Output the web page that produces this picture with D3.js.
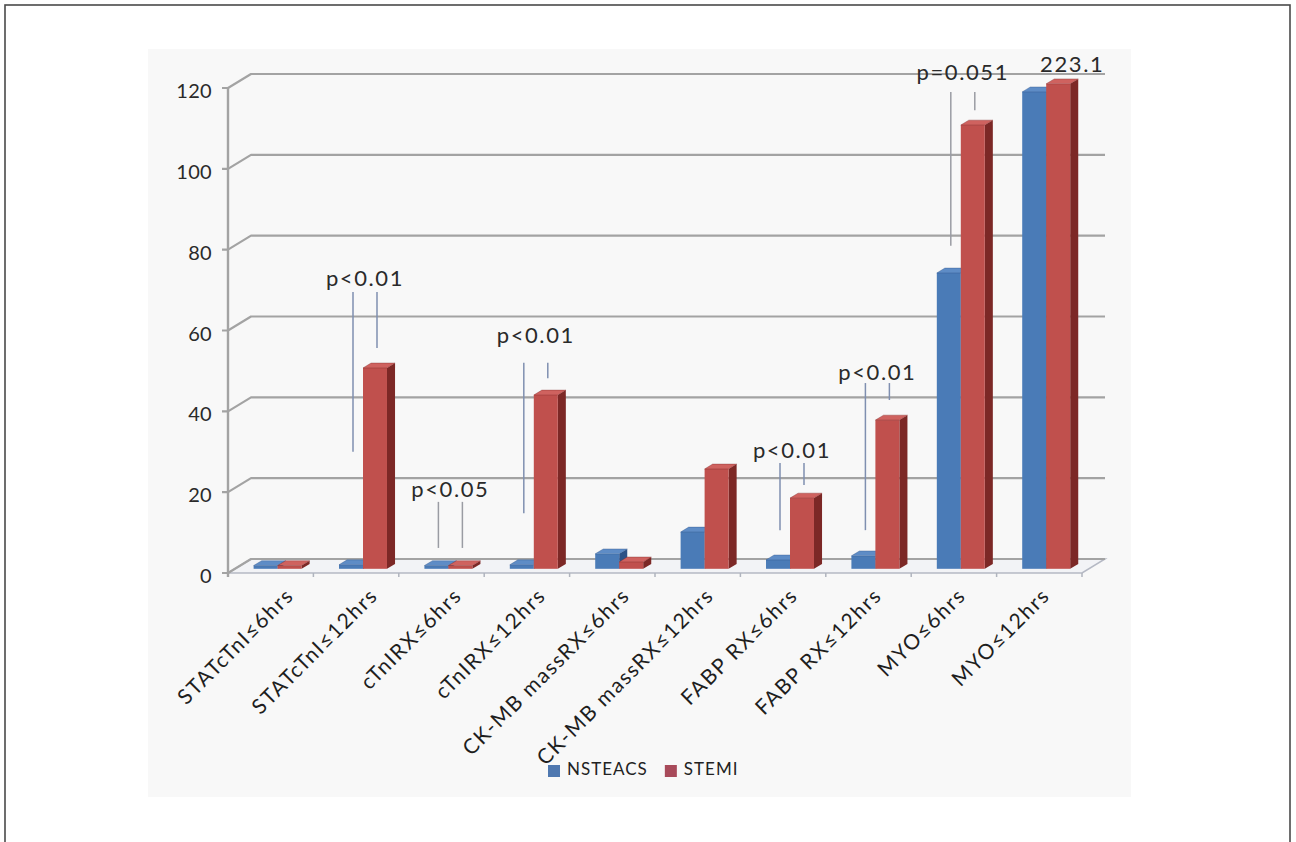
<!DOCTYPE html>
<html>
<head>
<meta charset="utf-8">
<script src="https://cdn.jsdelivr.net/npm/d3@7"></script>
<style>
  html, body { margin: 0; padding: 0; background: #ffffff; }
  svg { display: block; font-family: Lato, "Open Sans", sans-serif; }
</style>
</head>
<body>
<svg id="chart" width="1296" height="842"></svg>
<script>
// Biomarker positivity by time window, NSTEACS vs STEMI
const categories = [
  "STATcTnI≤6hrs", "STATcTnI≤12hrs", "cTnIRX≤6hrs", "cTnIRX≤12hrs",
  "CK-MB massRX≤6hrs", "CK-MB massRX≤12hrs", "FABP RX≤6hrs", "FABP RX≤12hrs",
  "MYO≤6hrs", "MYO≤12hrs"
];
const seriesNames = ["NSTEACS", "STEMI"];
const nsteacsValues = [0.8, 1.0, 0.8, 1.0, 3.7, 9.1, 2.2, 3.2, 73.2, 118];
const stemiValues   = [0.8, 49.7, 0.8, 43.0, 1.7, 24.7, 17.5, 36.8, 109.8, 223.1];
const yTicks = [0, 20, 40, 60, 80, 100, 120];

// significance annotations: category index, text, and leader-line extents (axis units)
const pCategory  = [1, 2, 3, 6, 7, 8];
const pText      = ["p<0.01", "p<0.05", "p<0.01", "p<0.01", "p<0.01", "p=0.051"];
const pTextBase  = [71, 18.8, 57, 28.5, 47.7, 122];
const pLineTop   = [69.5, 17.6, 52, 27.2, 47, 119];
const pBlueEnd   = [30, 6.2, 14.8, 10.6, 10.6, 81];
const pRedEnd    = [55.7, 6.2, 48.2, 21.8, 42.8, 114.5];

const svg = d3.select("#chart");

// frame
svg.append("rect").attr("x", 5).attr("y", 5).attr("width", 1285).attr("height", 850)
  .attr("fill", "#ffffff").attr("stroke", "#4a4a4a").attr("stroke-width", 1.6);
svg.append("rect").attr("x", 148).attr("y", 49).attr("width", 983).attr("height", 748)
  .attr("fill", "#f8f8f8");

// 3D geometry: front plane, back-wall offset, bar depth slab
const front = { left: 228, right: 1082, bottom: 573, top: 88 };
const depth = { dx: 23, dy: -14 };
const barFront = 0.3, barBack = 0.65;

const x = d3.scaleBand().domain(categories).range([front.left, front.right]).padding(0);
const xs = d3.scaleBand().domain(seriesNames).range([0, x.bandwidth()])
  .paddingInner(0).paddingOuter(0.78);
const y = d3.scaleLinear().domain([0, 120]).range([front.bottom, front.top]).clamp(true);
const yFree = y.copy().clamp(false);
// rotated category labels sit on a slightly tighter spacing than the floor bands
const xLabel = d3.scalePoint().domain(categories).range([295, 1051]);

const gridColor = "#a3a3a3";

// floor
const floorPts = [
  [front.left, front.bottom], [front.right, front.bottom],
  [front.right + depth.dx, front.bottom + depth.dy], [front.left + depth.dx, front.bottom + depth.dy]
];
svg.append("path").attr("d", "M" + floorPts.join("L") + "Z")
  .attr("fill", "#f2f3f6").attr("stroke", "#b5b9c4").attr("stroke-width", 1.5);

// gridlines: left wall diagonal + back wall horizontal
const grid = svg.append("g");
yTicks.forEach(t => {
  const yy = y(t);
  grid.append("path")
    .attr("d", `M${front.left - 6},${yy}L${front.left},${yy}L${front.left + depth.dx},${yy + depth.dy}L${front.right + depth.dx},${yy + depth.dy}`)
    .attr("fill", "none").attr("stroke", gridColor).attr("stroke-width", 2.2)
    .attr("stroke-linejoin", "round");
});
// vertical value axis
svg.append("line").attr("x1", front.left).attr("x2", front.left)
  .attr("y1", y(0) + 4).attr("y2", y(120))
  .attr("stroke", gridColor).attr("stroke-width", 2.4);

// category ticks along the floor front edge
categories.forEach((c, i) => {
  if (i === 0) return;
  svg.append("line").attr("x1", x(c)).attr("x2", x(c))
    .attr("y1", front.bottom).attr("y2", front.bottom + 4)
    .attr("stroke", "#b0b4be").attr("stroke-width", 1.5);
});
svg.append("line").attr("x1", front.right).attr("x2", front.right)
  .attr("y1", front.bottom).attr("y2", front.bottom + 4)
  .attr("stroke", "#b0b4be").attr("stroke-width", 1.5);

// value labels
svg.append("g").selectAll("text").data(yTicks).join("text")
  .attr("x", front.left - 16).attr("y", d => y(d) + 5)
  .attr("text-anchor", "end").attr("dominant-baseline", "middle")
  .attr("font-size", 20).attr("letter-spacing", 0.3).attr("fill", "#2a2a2a")
  .text(d => d);

// 3D bars
const colors = {
  NSTEACS: { front: "#4a7bb7", side: "#2d5286", top: "#5e8cc6" },
  STEMI:   { front: "#c0504d", side: "#7c2826", top: "#cf625f" }
};
const bdx0 = depth.dx * barFront, bdy0 = depth.dy * barFront;
const bdx = depth.dx * (barBack - barFront), bdy = depth.dy * (barBack - barFront);

const barData = [];
categories.forEach((c, i) => {
  barData.push({ cat: c, s: "NSTEACS", v: nsteacsValues[i] });
  barData.push({ cat: c, s: "STEMI", v: stemiValues[i] });
});

const barsG = svg.append("g");
barData.forEach(d => {
  const x0 = x(d.cat) + xs(d.s) + bdx0;
  const w = xs.bandwidth();
  const yb = y(0) + bdy0;
  const yt = y(d.v) + bdy0;
  const col = colors[d.s];
  const g = barsG.append("g");
  // side face
  g.append("path")
    .attr("d", `M${x0 + w},${yt}L${x0 + w + bdx},${yt + bdy}L${x0 + w + bdx},${yb + bdy}L${x0 + w},${yb}Z`)
    .attr("fill", col.side);
  // front face
  g.append("rect").attr("x", x0).attr("y", yt).attr("width", w).attr("height", Math.max(0, yb - yt))
    .attr("fill", col.front);
  // top face
  g.append("path")
    .attr("d", `M${x0},${yt}L${x0 + w},${yt}L${x0 + w + bdx},${yt + bdy}L${x0 + bdx},${yt + bdy}Z`)
    .attr("fill", col.top).attr("stroke", col.side).attr("stroke-width", 0.6).attr("stroke-opacity", 0.6);
});

// significance annotations
const barCenter = (ci, s) => x(categories[ci]) + xs(s) + bdx0 + xs.bandwidth() / 2 + 2;
const ann = svg.append("g");
pCategory.forEach((ci, k) => {
  const xb = barCenter(ci, "NSTEACS");
  const xr = barCenter(ci, "STEMI");
  const lineColor = k === 1 || k === 5 ? "#9a9ca3" : "#7f8fb0";
  ann.append("line").attr("x1", xb).attr("x2", xb)
    .attr("y1", yFree(pLineTop[k])).attr("y2", yFree(pBlueEnd[k]))
    .attr("stroke", lineColor).attr("stroke-width", 1.5);
  ann.append("line").attr("x1", xr).attr("x2", xr)
    .attr("y1", yFree(pLineTop[k])).attr("y2", yFree(pRedEnd[k]))
    .attr("stroke", lineColor).attr("stroke-width", 1.5);
  ann.append("text").attr("x", (xb + xr) / 2).attr("y", yFree(pTextBase[k]))
    .attr("text-anchor", "middle").attr("font-size", 22).attr("letter-spacing", 1.6)
    .attr("fill", "#2a2a2a")
    .text(pText[k]);
});

// data label for the clipped STEMI bar
const lastIdx = categories.length - 1;
ann.append("text")
  .attr("x", x(categories[lastIdx]) + xs("STEMI") + bdx0 + xs.bandwidth() / 2 + 14)
  .attr("y", yFree(124))
  .attr("text-anchor", "middle").attr("font-size", 22).attr("letter-spacing", 1.6)
  .attr("fill", "#2a2a2a")
  .text(d3.format(".1f")(stemiValues[lastIdx]));

// rotated category labels
svg.append("g").selectAll("text").data(categories).join("text")
  .attr("transform", d => `translate(${xLabel(d)},${front.bottom + 24}) rotate(-45)`)
  .attr("text-anchor", "end").attr("font-size", 21).attr("letter-spacing", 1.6)
  .attr("fill", "#1e1e1e")
  .text(d => d);

// legend
const legend = svg.append("g").attr("transform", "translate(548,771)");
const legendColors = { NSTEACS: "#4f78b0", STEMI: "#a84a5a" };
let lx = 0;
seriesNames.forEach(s => {
  legend.append("rect").attr("x", lx).attr("y", -6).attr("width", 12).attr("height", 12)
    .attr("fill", legendColors[s]);
  const t = legend.append("text").attr("x", lx + 19).attr("y", 0)
    .attr("dominant-baseline", "middle").attr("font-size", 17).attr("letter-spacing", 1)
    .attr("fill", "#222")
    .text(s);
  lx += 19 + t.node().getComputedTextLength() + 17;
});
</script>
</body>
</html>
